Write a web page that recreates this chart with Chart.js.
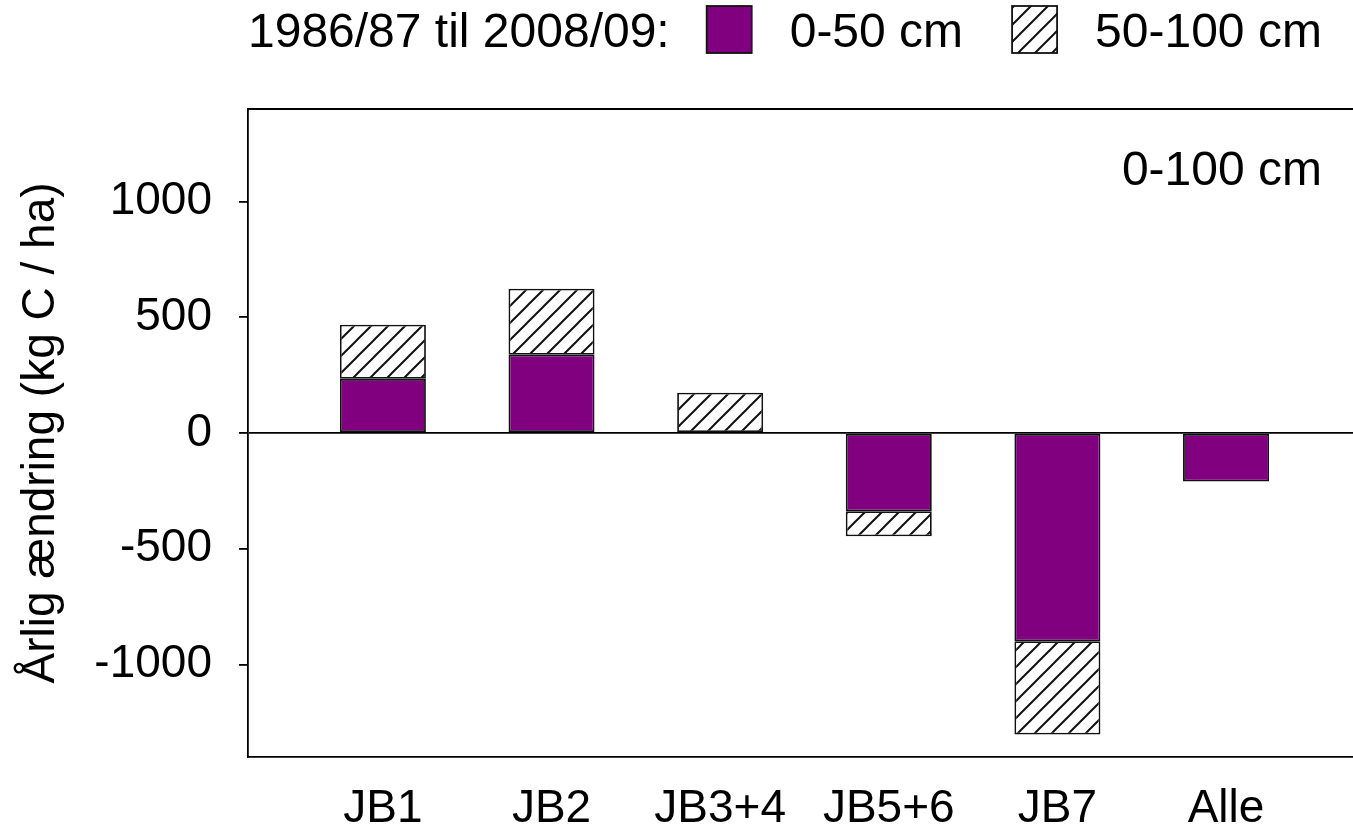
<!DOCTYPE html>
<html>
<head>
<meta charset="utf-8">
<script src="https://cdn.jsdelivr.net/npm/chart.js@4/dist/chart.umd.min.js"></script>
<style>
  html, body { margin: 0; padding: 0; background: #fff; }
  #wrap { width: 1353px; height: 829px; position: relative; }
</style>
</head>
<body>
<div id="wrap"><canvas id="soilChart"></canvas></div>
<script>
// jordklasser og aarlig aendring i kulstof (kg C / ha)
const categories = ['JB1', 'JB2', 'JB3+4', 'JB5+6', 'JB7', 'Alle'];
const topsoil = [234, 338, 0, -338, -900, -210];      // 0-50 cm
const subsoil = [234, 285, 174, -108, -403, 0];       // 50-100 cm
const yTicks = [-1000, -500, 0, 500, 1000];
const seriesNames = ['0-50 cm', '50-100 cm'];
const legendPrefix = '1986/87 til 2008/09:';
const panelLabel = '0-100 cm';
const yTitle = 'Årlig ændring (kg C / ha)';

const FONT = "'Liberation Sans', Arial, sans-serif";
const FONT_SIZE = 46;
const LEGEND_SIZE = 48;
const PURPLE = '#800080';

function makeHatch() {
    const size = 17;
    const c = document.createElement('canvas');
    c.width = size;
    c.height = size;
    const g = c.getContext('2d');
    g.fillStyle = '#fff';
    g.fillRect(0, 0, size, size);
    g.strokeStyle = '#111';
    g.lineWidth = 2;
    g.beginPath();
    g.moveTo(-1, size + 1);
    g.lineTo(size + 1, -1);
    g.moveTo(-2, 2);
    g.lineTo(2, -2);
    g.moveTo(size - 2, size + 2);
    g.lineTo(size + 2, size - 2);
    g.stroke();
    return g.createPattern(c, 'repeat');
}

const hatch = makeHatch();

// legend line at the top and the panel label inside the plot
const annotations = {
    id: 'annotations',
    afterDraw(chart) {
        const ctx = chart.ctx;
        const area = chart.chartArea;
        ctx.save();

        // top edge of the plot box
        ctx.strokeStyle = '#000';
        ctx.lineWidth = 1.8;
        ctx.beginPath();
        ctx.moveTo(area.left, area.top);
        ctx.lineTo(area.right, area.top);
        ctx.stroke();

        ctx.font = LEGEND_SIZE + 'px ' + FONT;
        ctx.fillStyle = '#000';
        ctx.textBaseline = 'alphabetic';

        let x = area.left;
        const base = 47;
        ctx.textAlign = 'left';
        ctx.fillText(legendPrefix, x, base);
        x += ctx.measureText(legendPrefix).width + 37;

        chart.data.datasets.forEach((ds) => {
            ctx.fillStyle = ds.backgroundColor;
            ctx.fillRect(x, 6, 45, 47);
            ctx.strokeStyle = '#111';
            ctx.lineWidth = 1.8;
            ctx.strokeRect(x, 6, 45, 47);
            x += 45 + 38;
            ctx.fillStyle = '#000';
            ctx.fillText(ds.label, x, base);
            x += ctx.measureText(ds.label).width + 49;
        });

        ctx.textAlign = 'right';
        ctx.fillText(panelLabel, area.right - 31, 185);
        ctx.restore();
    }
};

const ctx = document.getElementById('soilChart').getContext('2d');

new Chart(ctx, {
    type: 'bar',
    data: {
        datasets: [
            {
                label: seriesNames[0],
                data: categories.map((c, i) => ({ x: i, y: topsoil[i] })),
                backgroundColor: PURPLE,
                borderColor: '#111',
                borderWidth: 1.8,
                borderSkipped: false
            },
            {
                label: seriesNames[1],
                data: categories.map((c, i) => ({ x: i, y: subsoil[i] })),
                backgroundColor: hatch,
                borderColor: '#111',
                borderWidth: 1.8,
                borderSkipped: false
            }
        ]
    },
    options: {
        responsive: true,
        maintainAspectRatio: false,
        animation: false,
        barPercentage: 1,
        categoryPercentage: 0.51,
        layout: { padding: { top: 109, left: 0, right: 0, bottom: 0 } },
        plugins: {
            legend: { display: false },
            tooltip: { enabled: false }
        },
        scales: {
            x: {
                type: 'linear',
                stacked: true,
                offset: false,
                min: -0.8,
                max: 5.753,
                afterBuildTicks: (scale) => {
                    scale.ticks = categories.map((c, i) => ({ value: i }));
                },
                afterFit: (scale) => { scale.height = 72; },
                ticks: {
                    callback: (v) => categories[v],
                    color: '#000',
                    font: { family: FONT, size: FONT_SIZE },
                    padding: 25,
                    maxRotation: 0,
                    autoSkip: false
                },
                grid: { display: true, drawOnChartArea: false, drawTicks: false },
                border: { display: true, color: '#000', width: 1.8 }
            },
            y: {
                stacked: true,
                min: -1400,
                max: 1400,
                afterBuildTicks: (scale) => {
                    scale.ticks = yTicks.map(v => ({ value: v }));
                },
                afterFit: (scale) => { scale.width = 248; },
                ticks: {
                    callback: (v) => String(v),
                    color: '#000',
                    font: { family: FONT, size: FONT_SIZE },
                    padding: 27
                },
                grid: {
                    color: (c) => (c.tick && c.tick.value === 0 ? '#000' : 'rgba(0,0,0,0)'),
                    tickColor: '#000',
                    tickLength: 9,
                    lineWidth: 1.8
                },
                border: { display: true, color: '#000', width: 1.8 },
                title: {
                    display: true,
                    text: yTitle,
                    color: '#000',
                    font: { family: FONT, size: FONT_SIZE },
                    padding: { top: 14, bottom: 0 }
                }
            }
        }
    },
    plugins: [annotations]
});
</script>
</body>
</html>
